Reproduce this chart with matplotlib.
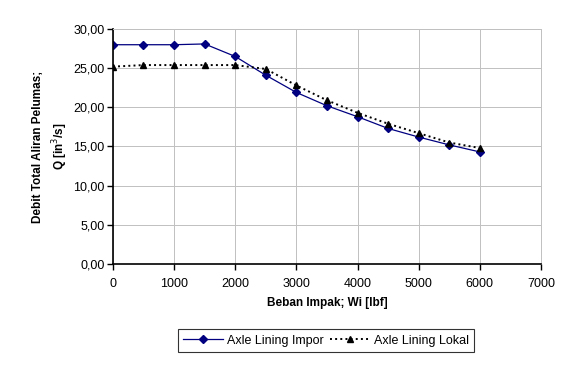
import matplotlib.pyplot as plt
from matplotlib.ticker import FuncFormatter

plt.rcParams['font.family'] = ['Liberation Sans', 'DejaVu Sans']

beban = [0, 500, 1000, 1500, 2000, 2500, 3000, 3500, 4000, 4500, 5000, 5500, 6000]
q_impor = [28.0, 28.0, 28.0, 28.1, 26.5, 24.1, 21.9, 20.2, 18.8, 17.3, 16.2, 15.2, 14.3]
q_lokal = [25.2, 25.4, 25.4, 25.4, 25.4, 24.9, 22.8, 20.9, 19.3, 17.9, 16.7, 15.5, 14.8]

fig = plt.figure(figsize=(5.82, 3.68), dpi=100)
ax = fig.add_axes([0.194, 0.283, 0.7356, 0.638])

ax.plot(beban, q_impor, color='#000080', lw=0.9, marker='D', ms=3.6,
        label='Axle Lining Impor')
ax.plot(beban, q_lokal, color='black', lw=1.4, ls=':', marker='^', ms=5,
        label='Axle Lining Lokal')

ax.set_xlim(0, 7000)
ax.set_ylim(0, 30)
ax.set_xticks(range(0, 7001, 1000))
ax.set_yticks(range(0, 31, 5))
ax.yaxis.set_major_formatter(FuncFormatter(lambda v, p: f'{v:.2f}'.replace('.', ',')))
ax.grid(True, color='#c0c0c0', lw=0.7)
ax.set_axisbelow(True)
for s in ['top', 'right']:
    ax.spines[s].set_color('#c0c0c0')
    ax.spines[s].set_linewidth(0.7)
for s in ['left', 'bottom']:
    ax.spines[s].set_linewidth(1.2)
ax.tick_params(direction='out', length=4, width=1, labelsize=9, colors='black')
ax.tick_params(axis='x', pad=6)
ax.tick_params(axis='y', pad=2)

ax.set_xlabel('Beban Impak; Wi [lbf]', fontsize=8.5, fontweight='bold', labelpad=5)
ax.set_ylabel('Debit Total Aliran Pelumas;\nQ [in$^3$/s]', fontsize=8.5,
              fontweight='bold', labelpad=2, linespacing=1.5)

leg = fig.legend(loc='center', bbox_to_anchor=(0.56, 0.074), ncol=2, fontsize=9,
                 frameon=True, fancybox=False, edgecolor='black', handlelength=3.2,
                 columnspacing=0.5, handletextpad=0.3, borderpad=0.45)
leg.get_frame().set_linewidth(0.8)

fig.savefig('out.png', dpi=100)
